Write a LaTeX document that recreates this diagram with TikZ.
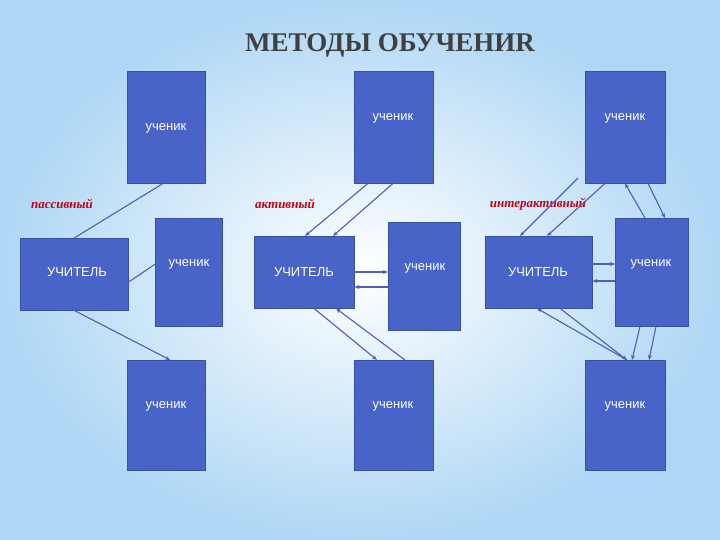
\documentclass[tikz,border=0pt]{standalone}
\usepackage{fontspec}
\setmainfont{Liberation Sans}
\newfontfamily\titlefont{Liberation Serif}
\usetikzlibrary{arrows.meta,shadows}
\definecolor{boxc}{RGB}{72,100,200}
\definecolor{linec}{RGB}{80,95,180}
\definecolor{bgout}{RGB}{175,215,245}
\definecolor{labc}{RGB}{200,0,20}
\begin{document}
\begin{tikzpicture}[x=1pt,y=-1pt,
  bx/.style={draw=boxc!80!black,fill=boxc,text=white,font=\fontsize{13}{15}\selectfont,inner sep=0pt},
  tx/.style={text=white,font=\fontsize{13}{15}\selectfont},
  ln/.style={draw=linec,line width=1.1pt},
  ar/.style={ln,-{Stealth[length=5pt,width=4pt]}},
  lab/.style={text=labc,font=\titlefont\itshape\bfseries\fontsize{13}{15}\selectfont}]
\shade[inner color=white,outer color=bgout] (0,0) rectangle (720,540);
\useasboundingbox (0,0) rectangle (720,540);
\node[font=\titlefont\bfseries\fontsize{27}{30}\selectfont,text=black!75] (title) at (390,45) {МЕТОДЫ ОБУЧЕНИR};
% left
\node[bx,minimum width=78pt,minimum height=112pt,anchor=north west] (a1) at (127,71) {};
\node[tx] at (166,128) {ученик};
\node[bx,minimum width=108pt,minimum height=72pt,anchor=north west] (at) at (20,238) {};
\node[tx] at (77,272) {УЧИТЕЛЬ};
\node[bx,minimum width=67pt,minimum height=108pt,anchor=north west] (a2) at (155,218) {};
\node[tx] at (189,264) {ученик};
\node[bx,minimum width=78pt,minimum height=110pt,anchor=north west] (a3) at (127,360) {};
\node[tx] at (166,406) {ученик};
\node[lab] (l1) at (62,204) {пассивный};
\draw[ln] ([xshift=-3pt]a1.south) -- (at.north);
\draw[ln] ([yshift=-8pt]at.east) -- ([yshift=8pt]a2.west);
\draw[ar] (at.south) -- ([xshift=4pt]a3.north);
% middle
\node[bx,minimum width=79pt,minimum height=112pt,anchor=north west] (b1) at (354,71) {};
\node[tx] at (393,118) {ученик};
\node[bx,minimum width=100pt,minimum height=72pt,anchor=north west] (bt) at (254,236) {};
\node[tx] at (304,272) {УЧИТЕЛЬ};
\node[bx,minimum width=72pt,minimum height=108pt,anchor=north west] (b2) at (388,222) {};
\node[tx] at (425,268) {ученик};
\node[bx,minimum width=79pt,minimum height=110pt,anchor=north west] (b3) at (354,360) {};
\node[tx] at (393,406) {ученик};
\node[lab] (l2) at (285,204) {активный};
\draw[ar] ([xshift=14pt]b1.south west) -- ([xshift=51pt]bt.north west);
\draw[ar] ([xshift=39pt]b1.south west) -- ([xshift=79pt]bt.north west);
\draw[ar] ([yshift=-36pt]bt.north east) -- ([yshift=-50pt]b2.north west);
\draw[ar] ([yshift=-65pt]b2.north west) -- ([yshift=-51pt]bt.north east);
\draw[ar] ([xshift=60pt]bt.south west) -- ([xshift=23pt]b3.north west);
\draw[ar] ([xshift=51pt]b3.north west) -- ([xshift=82pt]bt.south west);
% right
\node[bx,minimum width=80pt,minimum height=112pt,anchor=north west] (c1) at (585,71) {};
\node[tx] at (625,118) {ученик};
\node[bx,minimum width=107pt,minimum height=72pt,anchor=north west] (ct) at (485,236) {};
\node[tx] at (538,272) {УЧИТЕЛЬ};
\node[bx,minimum width=73pt,minimum height=108pt,anchor=north west] (c2) at (615,218) {};
\node[tx] at (651,264) {ученик};
\node[bx,minimum width=80pt,minimum height=110pt,anchor=north west] (c3) at (585,360) {};
\node[tx] at (625,406) {ученик};
\node[lab] (l3) at (538,204) {интерактивный};
\coordinate (cf) at (578,178);
\draw[ar] (cf) -- ([xshift=35pt]ct.north west);
\draw[ar] ([xshift=20pt]c1.south west) -- ([xshift=62pt]ct.north west);
\draw[ar] ([xshift=30pt]c2.north west) -- ([xshift=40pt]c1.south west);
\draw[ar] ([xshift=63pt]c1.south west) -- ([xshift=50pt]c2.north west);
\draw[ar] ([yshift=-28pt]ct.north east) -- ([yshift=-46pt]c2.north west);
\draw[ar] ([yshift=-63pt]c2.north west) -- ([yshift=-45pt]ct.north east);
\draw[ar] ([xshift=75pt]ct.south west) -- ([xshift=42pt]c3.north west);
\draw[ar] ([xshift=42pt]c3.north west) -- ([xshift=52pt]ct.south west);
\draw[ar] ([xshift=25pt]c2.south west) -- ([xshift=47pt]c3.north west);
\draw[ar] ([xshift=41pt]c2.south west) -- ([xshift=64pt]c3.north west);
\end{tikzpicture}
\end{document}
